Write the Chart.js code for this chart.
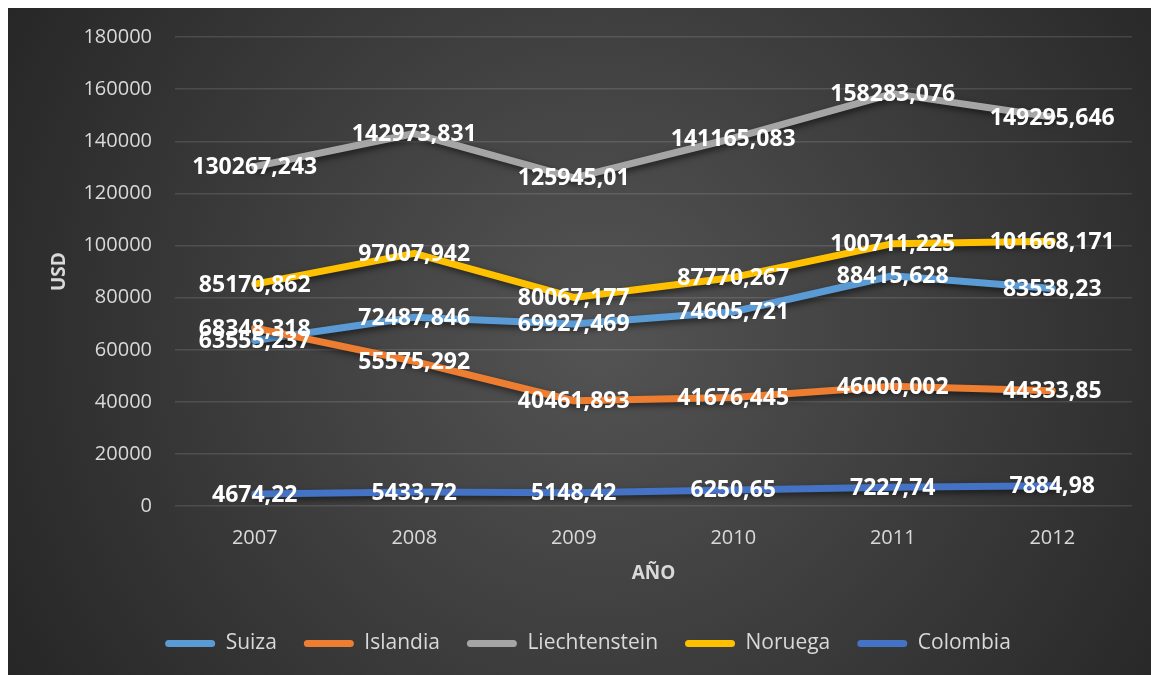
<!DOCTYPE html>
<html>
<head>
<meta charset="utf-8">
<script src="https://cdn.jsdelivr.net/npm/chart.js@4"></script>
<style>
  html, body { margin: 0; padding: 0; background: #fff; }
  canvas { display: block; }
</style>
</head>
<body>
<canvas id="chartUsd" width="1151" height="675"></canvas>
<script>
const anios = ['2007', '2008', '2009', '2010', '2011', '2012'];
const suiza = [63555.237, 72487.846, 69927.469, 74605.721, 88415.628, 83538.23];
const islandia = [68348.318, 55575.292, 40461.893, 41676.445, 46000.002, 44333.85];
const liechtenstein = [130267.243, 142973.831, 125945.01, 141165.083, 158283.076, 149295.646];
const noruega = [85170.862, 97007.942, 80067.177, 87770.267, 100711.225, 101668.171];
const colombia = [4674.22, 5433.72, 5148.42, 6250.65, 7227.74, 7884.98];

const series = [
    { label: 'Suiza', data: suiza, color: '#5B9BD5' },
    { label: 'Islandia', data: islandia, color: '#ED7D31' },
    { label: 'Liechtenstein', data: liechtenstein, color: '#A5A5A5' },
    { label: 'Noruega', data: noruega, color: '#FFC000' },
    { label: 'Colombia', data: colombia, color: '#4472C4' }
];

// fondo oscuro con degradado radial
const fondo = {
    id: 'fondo',
    beforeDraw(chart) {
        const c = chart.ctx;
        const w = chart.width, h = chart.height;
        c.save();
        c.fillStyle = '#ffffff';
        c.fillRect(0, 0, w, h);
        const g = c.createRadialGradient(600, 330, 0, 600, 330, 700);
        g.addColorStop(0, '#545454');
        g.addColorStop(1, '#252525');
        c.fillStyle = g;
        c.fillRect(8, 8, w - 8, h - 8);
        c.restore();
    }
};

// sombra de las líneas
const sombra = {
    id: 'sombra',
    beforeDatasetDraw(chart) {
        const c = chart.ctx;
        c.save();
        c.shadowColor = 'rgba(0,0,0,0.55)';
        c.shadowBlur = 6;
        c.shadowOffsetX = 2;
        c.shadowOffsetY = 3;
    },
    afterDatasetDraw(chart) {
        chart.ctx.restore();
    }
};

// etiquetas de datos centradas en cada punto
const etiquetas = {
    id: 'etiquetas',
    afterDatasetsDraw(chart) {
        const c = chart.ctx;
        c.save();
        c.font = 'bold 23px "Open Sans"';
        c.fillStyle = '#ffffff';
        c.textAlign = 'center';
        c.textBaseline = 'middle';
        chart.data.datasets.forEach((ds, i) => {
            const meta = chart.getDatasetMeta(i);
            meta.data.forEach((pt, j) => {
                const txt = String(ds.data[j]).replace('.', ',');
                c.fillText(txt, pt.x, pt.y + 1);
            });
        });
        c.restore();
    }
};

const ctx = document.getElementById('chartUsd');
const chartUsd = new Chart(ctx, {
    type: 'line',
    data: {
        labels: anios,
        datasets: series.map((s, i) => ({
            label: s.label,
            data: s.data,
            borderColor: s.color,
            backgroundColor: s.color,
            borderWidth: 7,
            pointRadius: 0,
            tension: 0,
            borderCapStyle: 'round',
            borderJoinStyle: 'round',
            order: series.length - 1 - i
        }))
    },
    options: {
        responsive: false,
        animation: false,
        layout: {
            padding: { top: 37, right: 19, bottom: 11, left: 44 }
        },
        scales: {
            x: {
                offset: true,
                grid: { display: false },
                border: { display: false },
                ticks: { color: '#d9d9d9', font: { family: 'Open Sans', size: 20 }, padding: 12 },
                title: {
                    display: true,
                    text: 'AÑO',
                    color: '#d9d9d9',
                    font: { family: 'Open Sans', size: 19, weight: 'bold' },
                    padding: { top: 0, bottom: 21 }
                }
            },
            y: {
                min: 0,
                max: 180000,
                afterFit: (scale) => { scale.width = 131; },
                grid: { color: 'rgba(255,255,255,0.12)', lineWidth: 1.5, drawTicks: false },
                border: { display: false },
                ticks: {
                    stepSize: 20000,
                    color: '#d9d9d9',
                    font: { family: 'Open Sans', size: 20 },
                    padding: 23,
                    callback: (v) => String(v)
                },
                title: {
                    display: true,
                    text: 'USD',
                    color: '#d9d9d9',
                    font: { family: 'Open Sans', size: 19, weight: 'bold' },
                    padding: { bottom: 6 }
                }
            }
        },
        plugins: {
            legend: {
                position: 'bottom',
                labels: {
                    color: '#d9d9d9',
                    font: { family: 'Open Sans', size: 21 },
                    boxWidth: 50,
                    boxHeight: 7,
                    padding: 27,
                    useBorderRadius: true,
                    borderRadius: 3.5,
                    sort: (a, b) => a.datasetIndex - b.datasetIndex,
                    generateLabels(chart) {
                        return chart.data.datasets.map((ds, i) => ({
                            text: ds.label,
                            fillStyle: ds.borderColor,
                            strokeStyle: ds.borderColor,
                            lineWidth: 0,
                            borderRadius: 3.5,
                            fontColor: '#d9d9d9',
                            datasetIndex: i,
                            hidden: false
                        }));
                    }
                }
            },
            tooltip: { enabled: false }
        }
    },
    plugins: [fondo, sombra, etiquetas]
});
</script>
</body>
</html>
